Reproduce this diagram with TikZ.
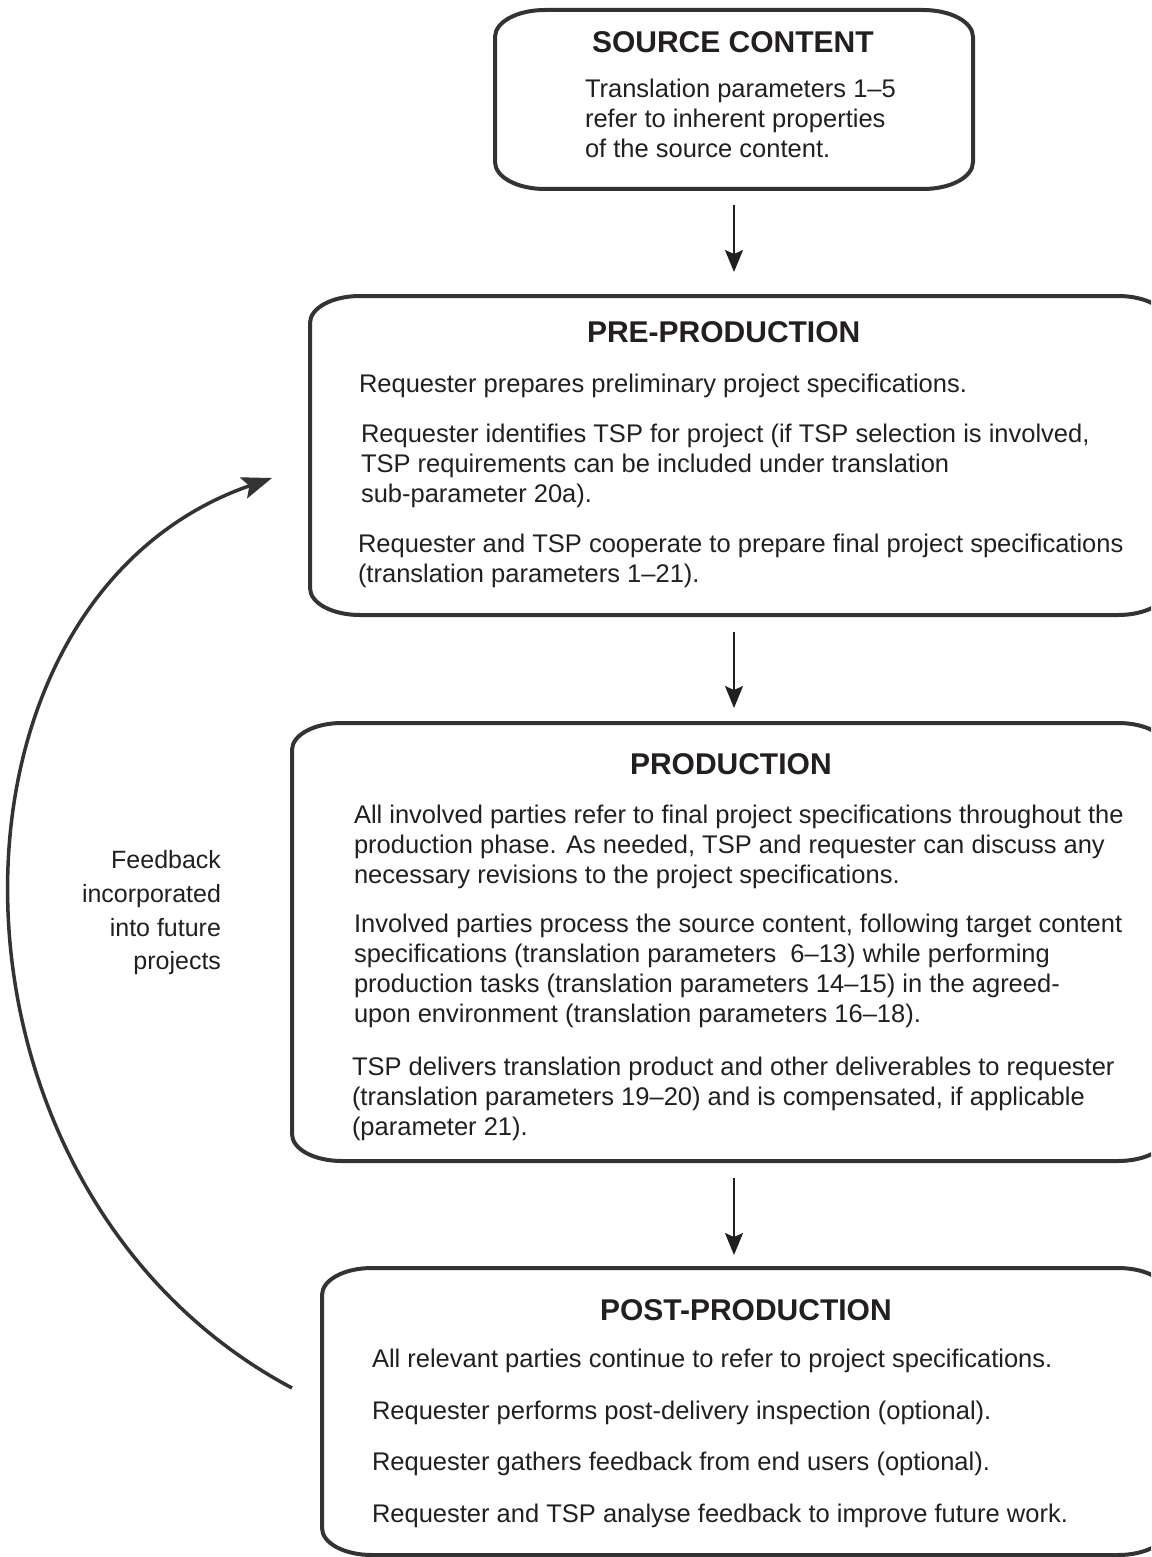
\documentclass[tikz,border=0pt]{standalone}
\usepackage{fontspec}
\setmainfont{Liberation Sans}
\usetikzlibrary{arrows.meta}
\definecolor{ink}{HTML}{231F20}
\definecolor{frame}{HTML}{333333}
\newcommand\rrbox[5]{%
  \node[boxnode, minimum width={(#4)-(#2)}, minimum height={(#5)-(#3)}] (#1) at ({((#2)+(#4))/2},{((#3)+(#5))/2}) {};
  \draw[boxline] ({#2+50},#3) -- ({#4-50},#3) .. controls ({#4-22},#3) and (#4,{#3+12}) .. (#4,{#3+27}) -- (#4,{#5-27}) .. controls (#4,{#5-12}) and ({#4-22},#5) .. ({#4-50},#5) -- ({#2+50},#5) .. controls ({#2+22},#5) and (#2,{#5-12}) .. (#2,{#5-27}) -- (#2,{#3+27}) .. controls (#2,{#3+12}) and ({#2+22},#3) .. ({#2+50},#3) -- cycle;
}
\tikzset{
  body/.style={font=\fontsize{25.5}{30}\selectfont, text=ink, inner sep=0pt, outer sep=0pt, anchor=base west},
  fbtext/.style={body, font=\fontsize{25}{30}\selectfont, anchor=base east},
  title/.style={font=\fontsize{30}{36}\selectfont\bfseries, text=ink, inner sep=0pt, outer sep=0pt, anchor=base west},
  boxnode/.style={draw=none, inner sep=0pt, outer sep=0pt, rectangle},
  boxline/.style={draw=frame, line width=4pt},
  arr/.style={draw=ink, line width=1.8pt, -{Stealth[length=22pt,width=18pt,inset=4pt]}},
  fb/.style={draw=frame, line width=3.5pt, -{Stealth[length=30pt,width=22pt,inset=6pt]}}
}
\begin{document}
\begin{tikzpicture}[x=1pt,y=-1pt]
\useasboundingbox (0,0) rectangle (1151,1557);
\fill[white] (0,0) rectangle (1151,1557);
\clip (0,0) rectangle (1151,1557);

% boxes
\rrbox{src}{495}{10}{973}{189}
\rrbox{pre}{310}{296}{1168}{615}
\rrbox{prod}{292}{723}{1168}{1161}
\rrbox{post}{322}{1268}{1168}{1555}

% source content
\node[title] (srct) at (592,53) {SOURCE CONTENT};
\node[body] (s1) at (585,98) {Translation parameters 1–5};
\node[body] (s2) at (585,128) {refer to inherent properties};
\node[body] (s3) at (585,158) {of the source content.};

% pre-production
\node[title] (pret) at (587,342) {PRE-PRODUCTION};
\node[body] (p1) at (359,392) {Requester prepares preliminary project specifications.};
\node[body] (p2a) at (361,442) {Requester identifies TSP for project (if TSP selection is involved,};
\node[body] (p2b) at (361,472) {TSP requirements can be included under translation};
\node[body] (p2c) at (361,502) {sub-parameter 20a).};
\node[body] (p3a) at (358,552) {Requester and TSP cooperate to prepare final project specifications};
\node[body] (p3b) at (358,582) {(translation parameters 1–21).};

% production
\node[title] (prodt) at (630,774) {PRODUCTION};
\node[body] (r1a) at (354,823) {All involved parties refer to final project specifications throughout the};
\node[body] (r1b) at (354,853) {production phase. As needed, TSP and requester can discuss any};
\node[body] (r1c) at (354,883) {necessary revisions to the project specifications.};
\node[body] (r2a) at (354,932) {Involved parties process the source content, following target content};
\node[body] (r2b) at (354,962) {specifications (translation parameters~ 6–13) while performing};
\node[body] (r2c) at (354,992) {production tasks (translation parameters 14–15) in the agreed-};
\node[body] (r2d) at (354,1022) {upon environment (translation parameters 16–18).};
\node[body] (r3a) at (352,1075) {TSP delivers translation product and other deliverables to requester};
\node[body] (r3b) at (352,1105) {(translation parameters 19–20) and is compensated, if applicable};
\node[body] (r3c) at (352,1135) {(parameter 21).};

% post-production
\node[title] (postt) at (600,1320) {POST-PRODUCTION};
\node[body] (q1) at (372,1367) {All relevant parties continue to refer to project specifications.};
\node[body] (q2) at (372,1419) {Requester performs post-delivery inspection (optional).};
\node[body] (q3) at (372,1470) {Requester gathers feedback from end users (optional).};
\node[body] (q4) at (372,1522) {Requester and TSP analyse feedback to improve future work.};

% feedback label
\node[fbtext] (f1) at (221,868) {Feedback};
\node[fbtext] (f2) at (221,902) {incorporated};
\node[fbtext] (f3) at (221,936) {into future};
\node[fbtext] (f4) at (221,969) {projects};

% arrows
\draw[arr] ([yshift=-16pt]src.south) -- ([yshift=24pt]src.south |- pre.north);
\draw[arr] ([yshift=-17pt]src.south |- pre.south) -- ([yshift=15pt]src.south |- prod.north);
\draw[arr] ([yshift=-17pt]src.south |- prod.south) -- ([yshift=13pt]src.south |- post.north);

% feedback loop
\coordinate (fbs) at (292,1388);
\coordinate (fbe) at (272,478);
\draw[fb] (fbs) .. controls (-80,1190) and (-80,600) .. (fbe);
\end{tikzpicture}
\end{document}
